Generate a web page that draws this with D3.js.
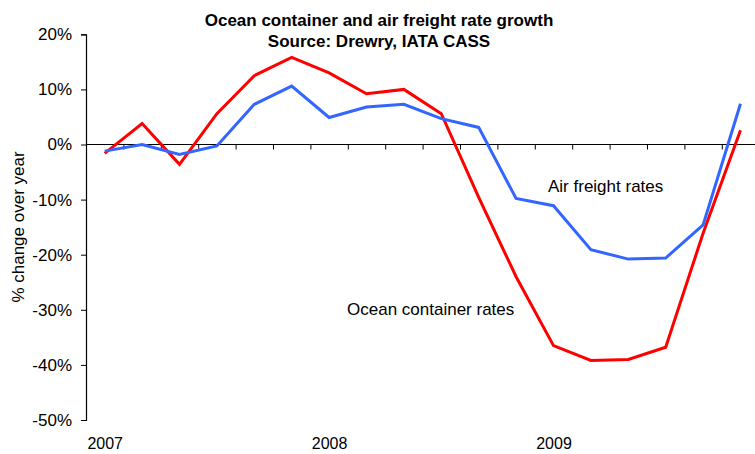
<!DOCTYPE html>
<html>
<head>
<meta charset="utf-8">
<script src="https://cdn.jsdelivr.net/npm/d3@7"></script>
<style>
  body { margin: 0; background: #fff; }
  svg { display: block; font-family: "Liberation Sans", Arial, sans-serif; }
</style>
</head>
<body>
<svg id="chart" width="755" height="454"></svg>
<script>
/////////////////////////////////// DONNEES ///////////////////////////////////
// one point every two months, Jan 2007 -> Nov 2009
var periods = ["Jan07","Mar07","May07","Jul07","Sep07","Nov07",
               "Jan08","Mar08","May08","Jul08","Sep08","Nov08",
               "Jan09","Mar09","May09","Jul09","Sep09","Nov09"];
var yearLabels = ["2007","2008","2009"];
var yearIndex = [0, 6, 12];

var oceanRates = [-1.6, 3.8, -3.6, 5.6, 12.5, 15.8, 13.0, 9.2, 10.0, 5.6,
                  -9.6, -24.0, -36.5, -39.2, -39.0, -36.8, -16.1, 2.6];
var airRates   = [-1.2, 0.0, -1.8, -0.25, 7.3, 10.6, 4.9, 6.8, 7.3, 4.7,
                  3.1, -9.8, -11.1, -19.1, -20.8, -20.6, -14.6, 7.4];

var yTicks = [20, 10, 0, -10, -20, -30, -40, -50];

/////////////////////////////////// ECHELLES ///////////////////////////////////
var svg = d3.select("#chart");
var plotLeft = 86, plotTop = 34.3, plotBottom = 420;
var step = 37.4;

// linear scale on category index, points sit at i + 0.5
var x = d3.scaleLinear().domain([0, periods.length]).range([plotLeft, plotLeft + step * periods.length]);
var y = d3.scaleLinear().domain([-50, 20]).range([plotBottom, plotTop]);

// titre
var title = svg.append("text")
  .attr("text-anchor", "middle")
  .style("font-weight", "bold").style("font-size", "17px");
title.append("tspan").attr("x", 379).attr("y", 26).text("Ocean container and air freight rate growth");
title.append("tspan").attr("x", 379).attr("y", 47).text("Source: Drewry, IATA CASS");

// axe Y
var yAxis = svg.append("g")
  .attr("transform", "translate(" + plotLeft + ",0)")
  .call(d3.axisLeft(y).tickValues(yTicks).tickSize(5).tickPadding(9)
        .tickFormat(function(d) { return d + "%"; }));
yAxis.select(".domain").attr("stroke", "#000").attr("stroke-width", 1.2);
yAxis.selectAll(".tick line").attr("stroke", "#000");
yAxis.selectAll("text").style("font-size", "17px").attr("fill", "#000")
  .attr("font-family", "Liberation Sans, Arial, sans-serif");

// axe X sur la ligne du zero
var xAxis = svg.append("g")
  .attr("transform", "translate(0," + y(0) + ")")
  .call(d3.axisBottom(x).tickValues(d3.range(0, periods.length + 1)).tickSize(5).tickFormat(""));
xAxis.select(".domain").attr("stroke", "#000").attr("stroke-width", 1.2)
  .attr("d", "M" + plotLeft + ",0H755");
xAxis.selectAll(".tick line").attr("stroke", "#000");

// labels des annees en bas
svg.append("g")
  .attr("transform", "translate(0," + plotBottom + ")")
  .call(d3.axisBottom(x).tickValues(yearIndex.map(function(i) { return i + 0.5; }))
        .tickSize(0).tickPadding(18)
        .tickFormat(function(d, i) { return yearLabels[i]; }))
  .call(function(g) { g.select(".domain").remove(); })
  .selectAll("text").style("font-size", "16px").attr("fill", "#000")
  .attr("font-family", "Liberation Sans, Arial, sans-serif");

// titre axe Y
svg.append("text")
  .attr("transform", "translate(24,227) rotate(-90)")
  .attr("text-anchor", "middle")
  .style("font-size", "17px")
  .text("% change over year");

/////////////////////////////////// COURBES ///////////////////////////////////
var line = d3.line()
  .x(function(d, i) { return x(i + 0.5); })
  .y(function(d) { return y(d); });

svg.append("path").datum(oceanRates)
  .attr("d", line).attr("fill", "none")
  .attr("stroke", "#ff0000").attr("stroke-width", 3).attr("stroke-linejoin", "miter");

svg.append("path").datum(airRates)
  .attr("d", line).attr("fill", "none")
  .attr("stroke", "#3366ff").attr("stroke-width", 3).attr("stroke-linejoin", "miter");

// etiquettes des series
svg.append("text").attr("x", 548).attr("y", 192)
  .style("font-size", "17px").text("Air freight rates");
svg.append("text").attr("x", 347).attr("y", 315)
  .style("font-size", "17px").text("Ocean container rates");
</script>
</body>
</html>
